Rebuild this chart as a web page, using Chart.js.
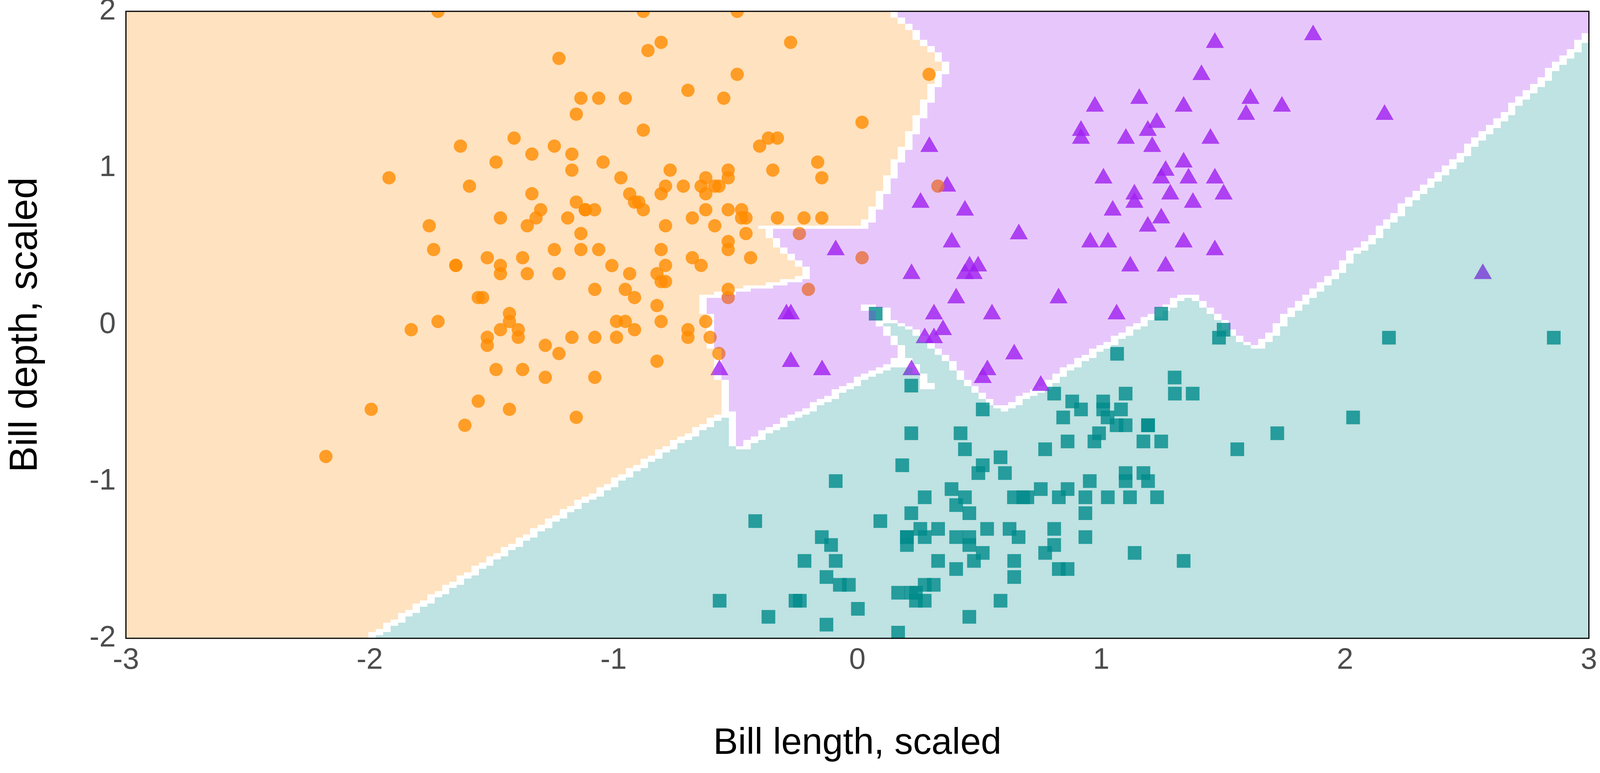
<!DOCTYPE html>
<html>
<head>
<meta charset="utf-8">
<style>html,body{margin:0;padding:0;background:#fff;overflow:hidden}canvas{display:block}</style>
<script src="https://cdn.jsdelivr.net/npm/chart.js@4"></script>
</head>
<body>
<canvas id="c"></canvas>
<script>
const xTickValues = [-3,-2,-1,0,1,2,3];
const yTickValues = [-2,-1,0,1,2];
const xTitle = "Bill length, scaled";
const yTitle = "Bill depth, scaled";

const adeliePoints = [
[-1.72,2.0],[-1.224,1.70],[-1.134,1.446],[-1.153,1.344],[-1.408,1.191],[-1.628,1.14],[-1.243,1.14],[-1.335,1.089],
[-1.171,1.089],[-1.482,1.038],[-1.171,.987],[-1.921,.938],[-1.591,.885],[-1.335,.836],[-1.153,.783],[-1.299,.734],
[-1.116,.734],[-1.116,.734],[-1.078,.734],[-1.318,.682],[-1.464,.682],[-1.188,.682],[-1.756,.632],[-1.354,.632],
[-1.134,.582],[-1.738,.48],[-1.243,.48],[-1.134,.48],[-1.518,.428],[-1.373,.428],[-1.647,.379],[-1.647,.379],
[-1.464,.379],[-1.464,.326],[-1.354,.326],[-1.224,.326],[-1.077,.226],[-1.555,.174],[-1.537,.174],[-1.427,.072],
[-1.427,.021],[-1.72,.021],[-1.83,-.031],[-1.464,-.031],[-1.391,-.031],[-1.518,-.08],[-1.391,-.08],[-1.171,-.08],
[-1.077,-.08],[-1.518,-.131],[-1.28,-.131],[-1.224,-.183],[-1.482,-.285],[-1.373,-.285],[-1.28,-.335],[-1.077,-.335],
[-1.555,-.487],[-1.994,-.539],[-1.427,-.539],[-1.153,-.59],[-1.61,-.641],[-2.18,-.84],
[-1.061,1.446],[-.952,1.446],[-1.043,1.038],[-.97,.938],[-.934,.835],[-1.061,.48],[-1.007,.378],[-.952,.226],
[-.988,.022],[-.952,.022],[-.988,-.08],
[-.878,2.0],[-.493,2.0],[-.805,1.802],[-.859,1.75],[-.274,1.802],[-.493,1.598],[.294,1.598],[-.695,1.496],
[-.548,1.446],[-.878,1.242],[.019,1.292],[-.365,1.191],[-.328,1.191],[-.401,1.14],[-.163,1.038],[-.768,.987],
[-.53,.987],[-.347,.987],[-.53,.938],[-.622,.938],[-.146,.938],[-.787,.885],[-.714,.885],[-.641,.885],[-.585,.885],
[-.568,.885],[-.805,.836],[-.622,.836],[-.914,.783],[-.897,.783],[-.878,.734],[-.622,.734],[-.53,.734],[-.475,.734],
[-.677,.682],[-.475,.682],[-.457,.682],[-.328,.682],[-.219,.682],[-.146,.682],[-.787,.632],[-.585,.632],[.33,.885],
[-.457,.582],[-.53,.531],[-.53,.48],[-.805,.48],[-.677,.428],[-.438,.428],[-.787,.379],[-.641,.379],[-.934,.326],
[-.822,.326],[-.805,.276],[-.787,.276],[-.53,.226],[-.914,.174],[-.53,.174],[-.822,.123],[-.805,.021],[-.622,.021],
[-.914,-.031],[-.695,-.031],[-.695,-.08],[-.604,-.08],[-.568,-.183],[-.822,-.232],[-.238,.582],[.019,.428],[-.201,.226]
];

const chinstrapPoints = [
[.974,1.393],[.917,1.239],[.917,1.188],[.295,1.136],[1.009,.935],[.368,.883],[.259,.78],[.441,.73],[1.047,.73],
[.662,.579],[.387,.527],[.955,.527],[1.028,.527],[-.089,.477],[.222,.325],[.46,.374],[.495,.374],[.441,.325],[.477,.325],
[.405,.17],[.825,.17],[.314,.068],[.552,.068],[-.291,.068],[-.273,.068],[1.063,.068],[.351,-.032],[.276,-.084],[.314,-.084],
[.643,-.187],[-.273,-.236],[-.145,-.288],[-.566,-.288],[.222,-.288],[.533,-.288],[.514,-.338],[.752,-.388],
[1.869,1.849],[1.466,1.8],[1.411,1.595],[1.156,1.443],[1.612,1.443],[1.338,1.393],[1.741,1.393],[1.594,1.341],[2.162,1.341],
[1.228,1.29],[1.191,1.239],[1.101,1.188],[1.448,1.188],[1.209,1.136],[1.338,1.037],[1.264,.984],[1.246,.935],[1.358,.935],
[1.466,.935],[1.136,.833],[1.283,.833],[1.502,.833],[1.136,.78],[1.376,.78],[1.246,.68],[1.191,.628],[1.338,.527],
[1.466,.477],[1.119,.374],[1.264,.374],[2.565,.325]
];

const gentooPoints = [
[.221,-.388],[.807,-.439],[.881,-.489],[1.008,-.489],[1.008,-.54],[1.1,-.439],[1.302,-.439],[1.375,-.439],[.514,-.54],
[.917,-.54],[1.081,-.54],[.844,-.591],[1.026,-.591],[1.063,-.641],[1.1,-.641],[1.192,-.641],[1.192,-.641],[.221,-.692],
[.423,-.692],[.991,-.692],[1.722,-.692],[.862,-.744],[.972,-.744],[1.173,-.744],[1.246,-.744],[.441,-.794],[.77,-.794],
[1.558,-.794],[.587,-.845],[.184,-.896],[.514,-.896],[.496,-.946],[.605,-.946],[1.1,-.946],[1.173,-.946],[-.089,-.997],
[.953,-.997],[1.1,-.997],[1.192,-.997],[.386,-1.048],[.752,-1.048],[.862,-1.048],[.276,-1.1],[.441,-1.1],[.642,-1.1],
[.68,-1.1],[.697,-1.1],[.826,-1.1],[.935,-1.1],[1.027,-1.1],[1.118,-1.1],[1.229,-1.1],[.405,-1.15],[.221,-1.202],
[.459,-1.202],[.935,-1.202],[.094,-1.252],[.258,-1.302],[.331,-1.302],[.532,-1.302],[.624,-1.302],[.807,-1.302],
[-.146,-1.354],[.203,-1.354],[.203,-1.354],[.276,-1.354],[.405,-1.354],[.459,-1.354],[.661,-1.354],[.935,-1.354],
[-.108,-1.405],[.203,-1.405],[.459,-1.405],[.807,-1.405],[.514,-1.455],[.77,-1.455],[1.137,-1.455],[-.089,-1.506],
[.331,-1.506],[.478,-1.506],[.643,-1.506],[1.338,-1.506],[.405,-1.558],[.826,-1.558],[.862,-1.558],[-.127,-1.609],
[.643,-1.609],[-.072,-1.659],[-.035,-1.659],[.276,-1.659],[.313,-1.659],[.167,-1.709],[.221,-1.709],[.24,-1.709],
[.24,-1.76],[.276,-1.76],[.587,-1.76],[.002,-1.812],[-.127,-1.913],[.459,-1.863],[.167,-1.964],
[-.419,-1.252],[-.217,-1.506],[-.565,-1.76],[-.254,-1.76],[-.236,-1.76],[-.365,-1.863],
[.075,.071],[1.246,.071],[1.502,-.031],[1.483,-.082],[2.18,-.082],[2.856,-.082],[1.065,-.185],[1.301,-.336],[2.033,-.591]
];

// Decision-region outlines (data units)
const orangePurpleEdge = [
[.122,2.02],[.333,1.696],[.363,1.654],[.333,1.577],[.302,1.482],[.272,1.382],[.242,1.28],[.213,1.176],[.181,1.081],
[.152,.996],[.122,.899],[.093,.795],[.061,.7],[.03,.643],[.008,.625],[-.392,.625],[-.361,.56],[-.33,.503],[-.298,.461],
[-.27,.421],[-.242,.384],[-.213,.346],[-.213,.299],[-.242,.284],[-.33,.264],[-.392,.247],[-.456,.227],[-.532,.202],
[-.605,.182],[-.632,.164],[-.632,.065],[-.605,.065],[-.605,-.164],[-.573,-.164],[-.573,-.364],[-.544,-.364],[-.544,-.555]
];
const orangeTealEdge = [[-.544,-.563],[-1.331,-1.33],[-1.997,-2.0],[-2.03,-2.04]];
const orangeOuterCorners = [[-3.05,-2.04],[-3.05,2.02]];
const purpleTealEdge = [
[-.513,-.555],[-.513,-.785],[-.463,-.785],[-.424,-.732],[-.33,-.65],[-.242,-.575],[-.153,-.498],[-.059,-.411],[.029,-.336],
[.117,-.269],[.161,-.232],[.181,-.222],[.181,-.174],[.152,-.117],[.122,-.055],[.093,.017],[.149,.017],[.181,-.002],[.213,-.03],
[.243,-.075],[.307,-.144],[.331,-.184],[.363,-.222],[.395,-.289],[.419,-.326],[.451,-.374],[.483,-.421],[.515,-.461],[.545,-.498],
[.571,-.535],[.603,-.545],[.633,-.508],[.691,-.451],[.753,-.411],[.817,-.336],[.873,-.269],[.936,-.212],[1.0,-.149],[1.041,-.117],
[1.116,-.04],[1.174,.022],[1.206,.055],[1.27,.117],[1.328,.169],[1.358,.182],[1.388,.159],[1.417,.127],[1.449,.085],[1.479,.035],
[1.507,-.012],[1.539,-.06],[1.571,-.102],[1.6,-.139],[1.628,-.149],[1.66,-.117],[1.692,-.075],[1.718,-.02],[1.75,.04],[1.782,.085],
[1.811,.127],[1.871,.207],[1.932,.294],[1.993,.374],[2.022,.436],[2.083,.513],[2.143,.593],[2.172,.645],[2.262,.78],[2.353,.899],
[2.505,1.118],[2.686,1.382],[2.838,1.604],[2.986,1.826],[3.05,1.935],[3.05,2.02]
];
// Short white seams inside one region: [xMin, xMax, yMin, yMax]
const seamBoxes = [
[.017,.076,.092,.132],[.076,.137,.012,.105],[.137,.225,-.269,-.212],[.228,.257,-.311,-.249],[.257,.287,-.374,-.311],[.257,.319,-.411,-.371]
];
const gridCols = 199;
const gridRows = 199;
const xRange = [-3,3];
const yRange = [-2,2];

const W = window.innerWidth || 4320;
const H = window.innerHeight || 1980;
const kx = W/4320, ky = H/1980;
const canvas = document.getElementById('c');
canvas.width = W; canvas.height = H;
canvas.style.width = W+'px'; canvas.style.height = H+'px';

const orangePolygon = [...orangePurpleEdge, ...orangeTealEdge, ...orangeOuterCorners];
const purplePolygon = [...orangePurpleEdge, ...purpleTealEdge];

function inside(poly, x, y){
  let c = false;
  for(let i=0,j=poly.length-1;i<poly.length;j=i++){
    const [xi,yi]=poly[i],[xj,yj]=poly[j];
    if((yi>y)!==(yj>y) && x < (xj-xi)*(y-yi)/(yj-yi)+xi) c=!c;
  }
  return c;
}
const xEdge = i => xRange[0]+(xRange[1]-xRange[0])*i/gridCols;
const yEdge = j => yRange[0]+(yRange[1]-yRange[0])*j/gridRows;
function regionAt(x,y){ return inside(purplePolygon,x,y)?1:inside(orangePolygon,x,y)?0:2; }

const cls = [];
for(let j=0;j<=gridRows;j++){
  const row=[];
  for(let i=0;i<=gridCols;i++) row.push(regionAt(xEdge(i),yEdge(j)));
  cls.push(row);
}
function cellClass(i,j){
  const c=cls[j][i];
  if(c!==cls[j][i+1]||c!==cls[j+1][i]) return -1;
  const mx=(xEdge(i)+xEdge(i+1))/2,my=(yEdge(j)+yEdge(j+1))/2;
  for(const b of seamBoxes) if(mx>=b[0]&&mx<=b[1]&&my>=b[2]&&my<=b[3]) return -1;
  return c;
}
const regionColors=['rgba(255,140,0,0.25)','rgba(160,32,240,0.25)','rgba(0,139,139,0.25)'];

const regionPlugin={
  id:'regions',
  afterDatasetsDraw(chart){
    const {ctx,scales:{x,y},chartArea:a}=chart;
    ctx.save();
    ctx.beginPath();ctx.rect(a.left,a.top,a.width,a.height);ctx.clip();
    for(let k=0;k<3;k++){
      ctx.beginPath();
      for(let j=0;j<gridRows;j++){
        const y0=Math.round(y.getPixelForValue(yEdge(j+1))),y1=Math.round(y.getPixelForValue(yEdge(j)));
        let start=-1;
        for(let i=0;i<=gridCols;i++){
          const on=i<gridCols&&cellClass(i,j)===k;
          if(on&&start<0) start=i;
          if(!on&&start>=0){
            const x0=Math.round(x.getPixelForValue(xEdge(start))),x1=Math.round(x.getPixelForValue(xEdge(i)));
            ctx.rect(x0,y0,x1-x0,y1-y0);
            start=-1;
          }
        }
      }
      ctx.fillStyle=regionColors[k];
      ctx.fill();
    }
    ctx.restore();
    ctx.save();
    ctx.strokeStyle='#000';ctx.lineWidth=3;
    ctx.strokeRect(a.left,a.top,a.width,a.height);
    ctx.restore();
  }
};
const toXY=p=>p.map(([x,y])=>({x,y}));
const FONT='"Liberation Sans", Arial, sans-serif';

new Chart(canvas,{
  type:'scatter',
  data:{datasets:[
    {label:'Adelie',data:toXY(adeliePoints),pointStyle:'circle',pointRadius:17*ky,backgroundColor:'rgba(255,140,0,0.8)',borderWidth:0},
    {label:'Chinstrap',data:toXY(chinstrapPoints),pointStyle:'triangle',pointRadius:26.7*ky,backgroundColor:'rgba(160,32,240,0.8)',borderWidth:0},
    {label:'Gentoo',data:toXY(gentooPoints),pointStyle:'rect',pointRadius:24.75*ky,backgroundColor:'rgba(0,139,139,0.8)',borderWidth:0}
  ]},
  options:{
    responsive:false,animation:false,devicePixelRatio:1,
    events:[],
    layout:{padding:{top:29*ky,right:30*kx,left:0,bottom:0}},
    plugins:{legend:{display:false},tooltip:{enabled:false},title:{display:false}},
    scales:{
      x:{type:'linear',min:xRange[0],max:xRange[1],
        grid:{display:false,drawTicks:false},border:{display:false},
        afterBuildTicks(s){s.ticks=xTickValues.map(v=>({value:v}));},
        afterFit(s){s.height=345*ky;s.paddingLeft=0;s.paddingRight=0;},
        ticks:{autoSkip:false,maxRotation:0,padding:12,color:'#4D4D4D',font:{family:FONT,size:80*kx},callback:v=>String(v)},
        title:{display:true,text:xTitle,color:'#000',font:{family:FONT,size:100*kx},padding:{top:0,bottom:18}}
      },
      y:{type:'linear',min:yRange[0],max:yRange[1],
        grid:{display:false,drawTicks:false},border:{display:false},
        afterBuildTicks(s){s.ticks=yTickValues.map(v=>({value:v}));},
        afterFit(s){s.width=340*kx;s.paddingTop=0;s.paddingBottom=0;},
        ticks:{autoSkip:false,maxRotation:0,padding:26,color:'#4D4D4D',font:{family:FONT,size:80*kx},callback:v=>String(v)},
        title:{display:true,text:yTitle,color:'#000',font:{family:FONT,size:100*ky},padding:{top:6,bottom:0}}
      }
    }
  },
  plugins:[regionPlugin]
});
</script>
</body>
</html>
